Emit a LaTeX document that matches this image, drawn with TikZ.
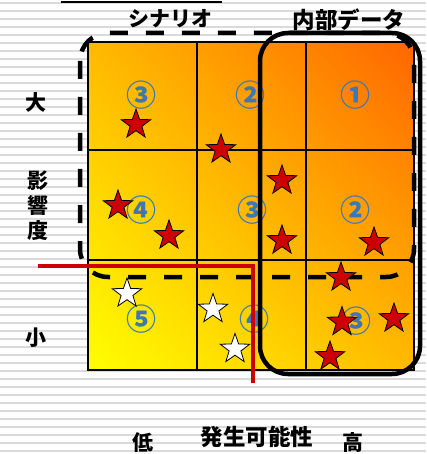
\documentclass[tikz,border=0pt]{standalone}
\usepackage{fontspec}
\setmainfont{Noto Sans CJK JP}
\usetikzlibrary{shapes.geometric,shadings}
\definecolor{numblue}{RGB}{61,120,181}
\definecolor{starred}{RGB}{204,0,0}
\definecolor{gridorange}{RGB}{255,102,0}
\definecolor{gridmid}{RGB}{255,186,0}
\definecolor{stripe}{RGB}{218,218,218}
\tikzset{
  lbl/.style={font=\bfseries\fontsize{21}{21}\selectfont, inner sep=0pt, anchor=center},
  biglbl/.style={lbl, font=\bfseries\fontsize{22.5}{22.5}\selectfont},
  num/.style={font=\bfseries\fontsize{30}{30}\selectfont, text=numblue, inner sep=0pt, anchor=center},
  redstar/.style={star, star points=5, star point ratio=2.5, minimum size=31pt, inner sep=0pt, fill=starred, draw=black, line width=0.8pt},
  whitestar/.style={redstar, fill=white},
  gridline/.style={line width=1.5pt, draw=black},
  scenariobox/.style={line width=4.5pt, dash pattern=on 18pt off 18pt, rounded corners=28pt},
  internalbox/.style={line width=4.5pt, rounded corners=28pt},
  riskline/.style={line width=4.5pt, draw=starred},
}
\begin{document}
\begin{tikzpicture}[x=1pt,y=-1pt]
\useasboundingbox (0,0) rectangle (426,454);
% striped slide background
\fill[white] (0,0) rectangle (426,454);
\foreach \k in {0,...,56} {
  \draw[stripe, line width=1.8pt] (0,{3+8*\k}) -- (426,{3+8*\k});
}
% top cut-off underline
\draw[line width=1.5pt] (61,2) -- (222,2);
% grid gradient
\shade[lower left=yellow, upper right=gridorange, upper left=gridmid, lower right=gridmid] (88,42) rectangle (414,370);
\draw[gridline] (197,42) -- (197,370);
\draw[gridline] (306,42) -- (306,370);
\draw[gridline] (88,150) -- (414,150);
\draw[gridline] (88,260) -- (414,260);
\draw[line width=2pt] (88,42) rectangle (414,370);
% circled numbers
\node[num] (n11) at (141,95) {③};
\node[num] (n12) at (250,95) {②};
\node[num] (n13) at (355,95) {①};
\node[num] (n21) at (141,210) {④};
\node[num] (n22) at (252,210) {③};
\node[num] (n23) at (355,210) {②};
\node[num] (n31) at (141,319) {⑤};
\node[num] (n32) at (254,319) {④};
\node[num] (n33) at (356,321) {③};
% scenario (dashed) and internal data (solid) regions
\draw[scenariobox] (80,33) rectangle (414,277);
\draw[internalbox] (260,33) rectangle (420,374);
% red threshold line
\coordinate (r0) at (38,266);
\coordinate (r1) at (253,266);
\coordinate (r2) at (253,383);
\draw[riskline] (r0) -- (r1) -- (r2);
% stars
\node[redstar] (s1) at (136,124.5) {};
\node[redstar] (s2) at (221,149.5) {};
\node[redstar] (s3) at (118,205.5) {};
\node[redstar] (s4) at (169,235.5) {};
\node[redstar] (s5) at (282,180.5) {};
\node[redstar] (s6) at (282,240.5) {};
\node[redstar] (s7) at (374,242.5) {};
\node[redstar] (s8) at (341,277.5) {};
\node[redstar] (s9) at (342,322) {};
\node[redstar] (s10) at (394,318.5) {};
\node[redstar] (s11) at (330,356.5) {};
\node[whitestar] (w1) at (127,293.5) {};
\node[whitestar] (w2) at (213,309) {};
\node[whitestar] (w3) at (235,349) {};
% labels
\node[lbl] (scen) at (170,19) {シナリオ};
\node[biglbl] (inner) at (349,20) {内部データ};
\node[lbl] (big) at (36,102) {大};
\node[lbl, align=center, font=\bfseries\fontsize{21}{25}\selectfont] (impact) at (38,206) {影\\響\\度};
\node[lbl] (small) at (36,338) {小};
\node[lbl] (low) at (143,443) {低};
\node[biglbl] (prob) at (257,437) {発生可能性};
\node[lbl] (high) at (353,443) {高};
\end{tikzpicture}
\end{document}
